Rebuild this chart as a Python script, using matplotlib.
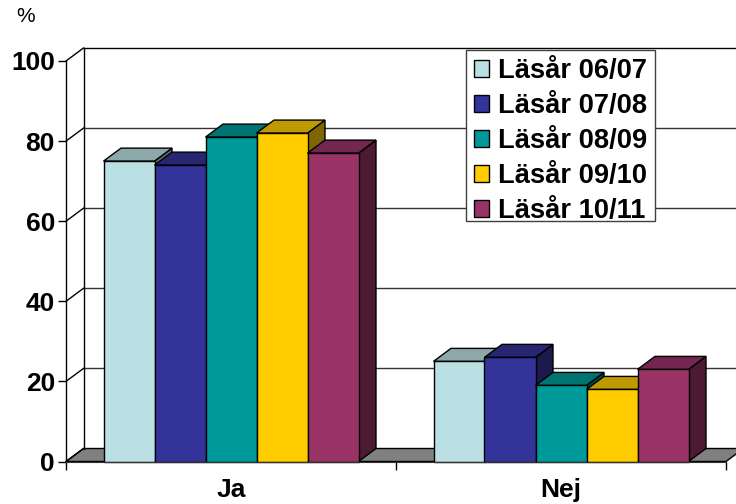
import matplotlib
matplotlib.use('Agg')
import matplotlib.pyplot as plt
from matplotlib.patches import Polygon, Rectangle

plt.rcParams['font.family'] = ['Liberation Sans', 'DejaVu Sans']

categories = ['Ja', 'Nej']
series_names = ['Läsår 06/07', 'Läsår 07/08', 'Läsår 08/09', 'Läsår 09/10', 'Läsår 10/11']
values_0607 = [75, 25]
values_0708 = [74, 26]
values_0809 = [81, 19]
values_0910 = [82, 18]
values_1011 = [77, 23]
all_values = [values_0607, values_0708, values_0809, values_0910, values_1011]
y_ticks = [0, 20, 40, 60, 80, 100]

front_colors = ['#BBE0E3', '#333399', '#009999', '#FFCC00', '#993366']
top_colors = ['#8CA8AA', '#262673', '#007373', '#BF9900', '#732650']
side_colors = ['#5E7072', '#1A1A4D', '#004D4D', '#806600', '#4D1A33']

fig = plt.figure(figsize=(7.36, 5.04), dpi=100)
ax = fig.add_axes([66 / 736, (504 - 461.5) / 504, 660 / 736, 400.5 / 504])
ax.set_xlim(0, 2)
ax.set_ylim(0, 100)
ax.patch.set_alpha(0)

# depth of the fake 3D box, in data units
dx = 17.5 / 330
dy = 13 / 4.005
bar_w = 51 / 330

# floor
ax.add_patch(Polygon([(0, 0), (dx, dy), (2 + dx, dy), (2, 0)], closed=True, facecolor='#808080',
                     edgecolor='black', linewidth=1, clip_on=False, zorder=1))

# walls and gridlines
for t in y_ticks:
    if t == 0:
        ax.plot([0, dx], [t, t + dy], color='black', lw=1, clip_on=False, zorder=1.5)
        continue
    ax.plot([0, dx], [t, t + dy], color='black', lw=1, clip_on=False, zorder=1)
    ax.plot([dx, 2 + dx], [t + dy, t + dy], color='black' if t == 100 else '#333333', lw=1, clip_on=False, zorder=1)
ax.plot([dx, dx], [dy, 100 + dy], color='black', lw=1, clip_on=False, zorder=1)

# bars, left to right so each one covers the side of the previous one
handles = []
z = 2
for i, vals in enumerate(all_values):
    for j, v in enumerate(vals):
        x0 = j + 0.5 + (i - 2.5) * bar_w
        x1 = x0 + bar_w
        ax.add_patch(Polygon([(x1, 0), (x1 + dx, dy), (x1 + dx, v + dy), (x1, v)], closed=True,
                             facecolor=side_colors[i], edgecolor='black', linewidth=1, clip_on=False, zorder=z))
        ax.add_patch(Polygon([(x0, v), (x0 + dx, v + dy), (x1 + dx, v + dy), (x1, v)], closed=True,
                             facecolor=top_colors[i], edgecolor='black', linewidth=1, clip_on=False, zorder=z))
        b = ax.bar(x0, v, width=bar_w, align='edge', color=front_colors[i], edgecolor='black',
                   linewidth=1, clip_on=False, zorder=z + 0.5)
    handles.append(b[0])
    z += 1

# axes
for s in ['top', 'right']:
    ax.spines[s].set_visible(False)
ax.spines['left'].set_linewidth(1)
ax.spines['bottom'].set_color('#333333')
ax.spines['bottom'].set_zorder(20)
ax.set_yticks(y_ticks)
ax.set_yticklabels([str(t) for t in y_ticks], fontsize=19, fontweight='bold')
ax.tick_params(axis='y', length=6, width=1, pad=2)
ax.set_xticks([0, 1, 2])
ax.set_xticklabels([])
ax.tick_params(axis='x', which='major', length=6, width=1)
ax.set_xticks([0.5, 1.5], minor=True)
ax.set_xticklabels(categories, minor=True, fontsize=19, fontweight='bold')
ax.tick_params(axis='x', which='minor', length=0, pad=12)

fig.text(16 / 736, 1 - 17 / 504, '%', fontsize=15, va='center', ha='left')

# legend frame is drawn by hand, the built-in one leaves too much room under the last row
ax.add_patch(Rectangle((466 / 736, 1 - 221 / 504), 189 / 736, 171 / 504, transform=fig.transFigure,
                       facecolor='white', edgecolor='#404040', linewidth=1, clip_on=False, zorder=29))
leg = ax.legend(handles, series_names, loc='upper left', bbox_to_anchor=(466 / 736, 1 - 50 / 504),
                bbox_transform=fig.transFigure, prop={'weight': 'bold', 'size': 19.6},
                frameon=False, borderaxespad=0, borderpad=0.3,
                labelspacing=0.33, handlelength=0.56, handleheight=0.56, handletextpad=0.33)
leg.set_zorder(30)

fig.savefig('out.png', dpi=100)
